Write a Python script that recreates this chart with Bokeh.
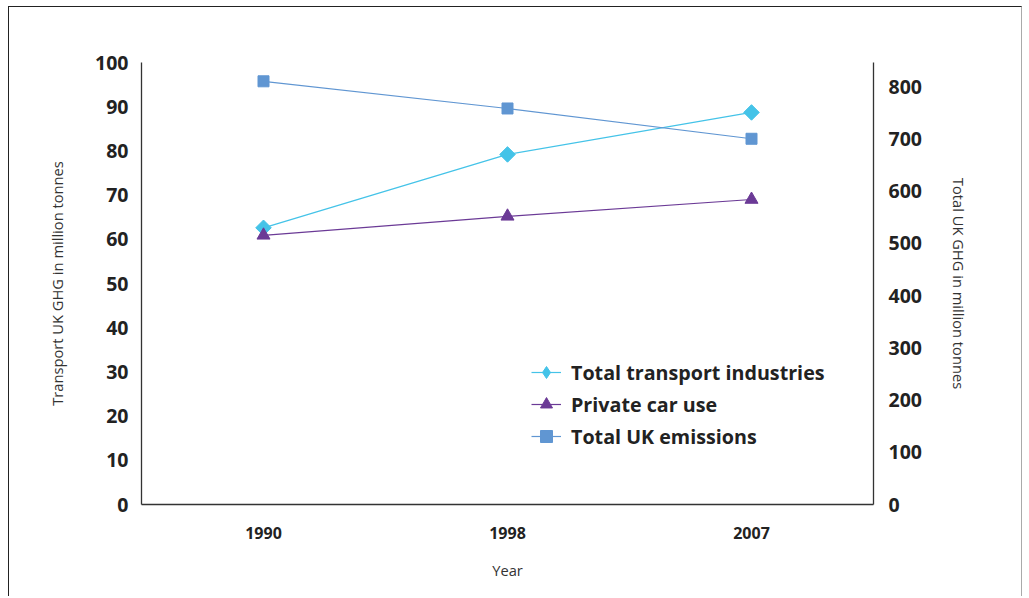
import math
from bokeh.plotting import figure
from bokeh.models import Range1d, LinearAxis, Legend, LegendItem, FixedTicker
from bokeh.embed import file_html
from bokeh.resources import INLINE

years = ["1990", "1998", "2007"]
transport = [62.6, 79.2, 88.7]
private_car = [60.9, 65.2, 69.0]
total_uk = [810, 758, 700]
left_ticks = [0, 10, 20, 30, 40, 50, 60, 70, 80, 90, 100]
right_ticks = [0, 100, 200, 300, 400, 500, 600, 700, 800]

C_TRANS = "#44c3e8"
C_CAR = "#6b3a96"
C_TOTAL = "#6096d2"
FONT = "Open Sans"

p = figure(width=1014, height=590, x_range=years, y_range=Range1d(0, 100),
           output_backend="svg", toolbar_location=None,
           min_border_left=132, min_border_right=150, min_border_top=55, min_border_bottom=93)
p.styles = {"border-top": "1.5px solid #222", "border-left": "1.5px solid #222",
            "border-right": "1px solid #aaa", "box-sizing": "border-box",
            "margin-left": "8px", "margin-top": "6px"}
p.extra_y_ranges = {"right": Range1d(0, 846)}
p.outline_line_color = None
p.grid.grid_line_color = None
p.background_fill_color = "white"
p.border_fill_color = "white"

r_trans = p.line(years, transport, color=C_TRANS, line_width=1.2)
m_trans = p.scatter(years, transport, marker="square", angle=math.pi / 4, size=11, color=C_TRANS)
# legend-only diamond glyph (a single undrawn NaN point)
lg_trans = p.scatter(x=[years[0]], y=[float("nan")], marker="diamond", size=17, color=C_TRANS)
r_car = p.line(years, private_car, color=C_CAR, line_width=1.2)
m_car = p.scatter(years, private_car, marker="triangle", size=13, color=C_CAR)
r_tot = p.line(years, total_uk, color=C_TOTAL, line_width=1.2, y_range_name="right")
m_tot = p.scatter(years, total_uk, marker="square", size=11, color=C_TOTAL, y_range_name="right")

# left axis
ya = p.yaxis[0]
ya.ticker = FixedTicker(ticks=left_ticks)
ya.axis_label = "Transport UK GHG in million tonnes"
ya.axis_label_text_font = FONT
ya.axis_label_text_font_style = "normal"
ya.axis_label_text_font_size = "14.7px"
ya.axis_label_text_color = "#333333"
ya.axis_label_standoff = 25
ya.major_label_text_font = FONT
ya.major_label_text_font_style = "bold"
ya.major_label_text_font_size = "19.5px"
ya.major_label_text_color = "#222222"
ya.major_label_standoff = 7
ya.major_tick_line_color = None
ya.minor_tick_line_color = None
ya.axis_line_color = "#333333"
ya.axis_line_width = 1.3

# right axis
ra = LinearAxis(y_range_name="right", ticker=FixedTicker(ticks=right_ticks))
ra.axis_label = "Total UK GHG in million tonnes"
ra.axis_label_text_font = FONT
ra.axis_label_text_font_style = "normal"
ra.axis_label_text_font_size = "14.7px"
ra.axis_label_text_color = "#333333"
ra.axis_label_standoff = 24
ra.major_label_text_font = FONT
ra.major_label_text_font_style = "bold"
ra.major_label_text_font_size = "19.5px"
ra.major_label_text_color = "#222222"
ra.major_label_standoff = 9
ra.major_tick_line_color = None
ra.minor_tick_line_color = None
ra.axis_line_color = "#333333"
ra.axis_line_width = 1.3
p.add_layout(ra, "right")

# x axis
xa = p.xaxis[0]
xa.axis_label = "Year"
xa.axis_label_text_font = FONT
xa.axis_label_text_font_style = "normal"
xa.axis_label_text_font_size = "14.7px"
xa.axis_label_text_color = "#333333"
xa.axis_label_standoff = 18
xa.major_label_text_font = FONT
xa.major_label_text_font_style = "bold"
xa.major_label_text_font_size = "16px"
xa.major_label_text_color = "#222222"
xa.major_label_standoff = 16
xa.major_tick_line_color = None
xa.axis_line_color = "#333333"
xa.axis_line_width = 1.3

legend = Legend(items=[
    LegendItem(label="Total transport industries", renderers=[r_trans, lg_trans]),
    LegendItem(label="Private car use", renderers=[r_car, m_car]),
    LegendItem(label="Total UK emissions", renderers=[r_tot, m_tot]),
], location=(390, 52))
legend.background_fill_alpha = 0
legend.border_line_color = None
legend.padding = 0
legend.margin = 0
legend.spacing = 0
legend.glyph_width = 30
legend.glyph_height = 32
legend.label_height = 32
legend.label_standoff = 10
legend.label_text_font = FONT
legend.label_text_font_style = "bold"
legend.label_text_font_size = "19.7px"
legend.label_text_color = "#222222"
p.add_layout(legend, "center")

open("out.html", "w").write(file_html(p, INLINE))
